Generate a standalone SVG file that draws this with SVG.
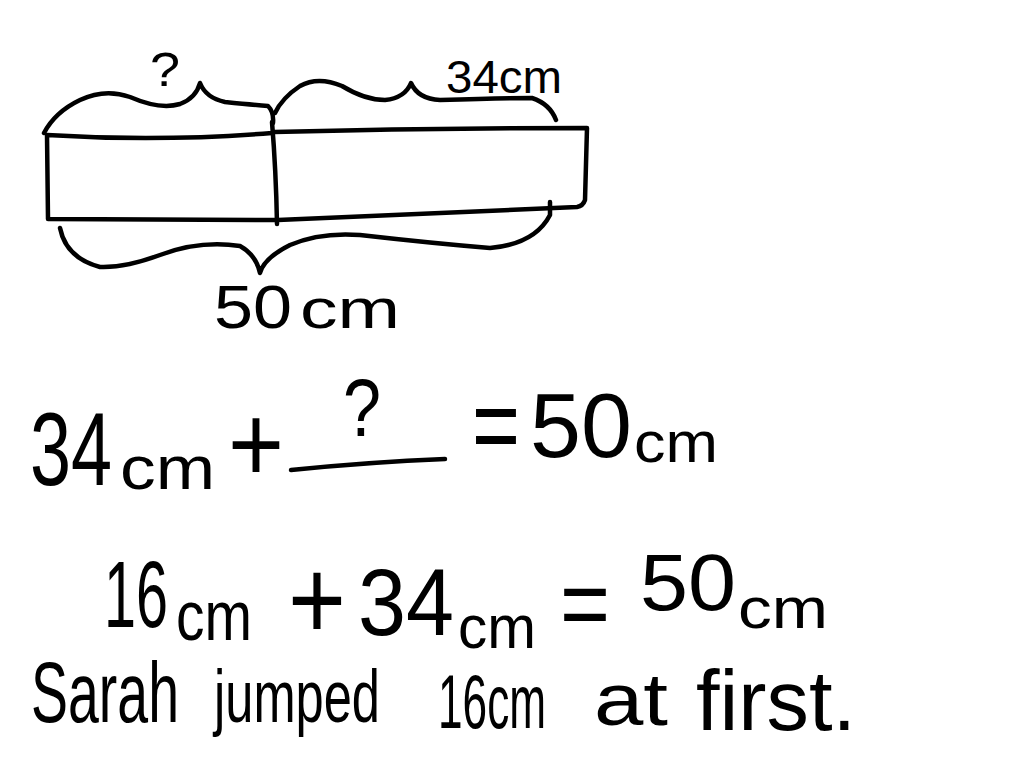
<svg xmlns="http://www.w3.org/2000/svg" width="1024" height="768" viewBox="0 0 1024 768">
<style>
.ink{fill:none;stroke:#000;stroke-width:4.5;stroke-linecap:round;stroke-linejoin:round}
.t{font-family:"Liberation Sans","DejaVu Sans",sans-serif;fill:#000}
</style>
<rect width="1024" height="768" fill="#fff"/>
<g id="bar-model">
<path class="ink" d="M47,135 Q160,142 272,133 L274,132 Q430,128 587,128 L585,200 Q583,206 577,207 Q430,214 278,220 L48,219 Z"/>
<path class="ink" d="M272,122 Q276,170 277,224"/>
</g>
<g id="braces">
<path class="ink" d="M44,133 Q55,112 80,100 Q105,88 130,97 Q160,110 180,104 Q196,98 200,83 Q206,98 225,102 Q255,105 268,106 Q274,112 273,123"/>
<path class="ink" d="M275,113 Q282,98 300,86 Q318,76 342,86 Q365,100 385,100 Q405,98 411,83 Q418,99 440,100 Q500,98 532,98 Q550,104 556,120"/>
<path class="ink" d="M60,228 Q66,258 100,267 Q125,268 160,255 Q200,240 240,246 Q256,255 260,273 Q264,258 290,245 Q320,232 360,235 Q430,243 490,248 Q535,244 550,215 L550,202"/>
</g>
<g id="labels">
<text class="t" x="150" y="86" font-size="48" textLength="30" lengthAdjust="spacingAndGlyphs">?</text>
<text class="t" x="446" y="93" font-size="46" textLength="116" lengthAdjust="spacingAndGlyphs">34cm</text>
<text class="t" x="214" y="328" font-size="62" textLength="78" lengthAdjust="spacingAndGlyphs">50</text>
<text class="t" x="300" y="328" font-size="56" textLength="100" lengthAdjust="spacingAndGlyphs">cm</text>
</g>
<g id="equation1">
<text class="t" x="30" y="485" font-size="104" textLength="82" lengthAdjust="spacingAndGlyphs">34</text>
<text class="t" x="120" y="489" font-size="62" textLength="95" lengthAdjust="spacingAndGlyphs">cm</text>
<text class="t" x="228" y="482" font-size="110" textLength="56" lengthAdjust="spacingAndGlyphs">+</text>
<path class="ink" d="M291,470 Q370,462 445,459"/>
<text class="t" x="343" y="436" font-size="82" textLength="38" lengthAdjust="spacingAndGlyphs">?</text>
<text class="t" x="472" y="462" font-size="110" textLength="48" lengthAdjust="spacingAndGlyphs">=</text>
<text class="t" x="530" y="457" font-size="90" textLength="102" lengthAdjust="spacingAndGlyphs">50</text>
<text class="t" x="634" y="462" font-size="58" textLength="84" lengthAdjust="spacingAndGlyphs">cm</text>
</g>
<g id="equation2">
<text class="t" x="104" y="627" font-size="95" textLength="64" lengthAdjust="spacingAndGlyphs">16</text>
<text class="t" x="176" y="640" font-size="70" textLength="76" lengthAdjust="spacingAndGlyphs">cm</text>
<text class="t" x="288" y="639" font-size="115" textLength="58" lengthAdjust="spacingAndGlyphs">+</text>
<text class="t" x="358" y="635" font-size="95" textLength="96" lengthAdjust="spacingAndGlyphs">34</text>
<text class="t" x="458" y="648" font-size="62" textLength="78" lengthAdjust="spacingAndGlyphs">cm</text>
<text class="t" x="560" y="638" font-size="100" textLength="50" lengthAdjust="spacingAndGlyphs">=</text>
<text class="t" x="640" y="610" font-size="79" textLength="96" lengthAdjust="spacingAndGlyphs">50</text>
<text class="t" x="738" y="628" font-size="58" textLength="90" lengthAdjust="spacingAndGlyphs">cm</text>
</g>
<g id="sentence">
<text class="t" x="31" y="722" font-size="86" textLength="148" lengthAdjust="spacingAndGlyphs">Sarah</text>
<text class="t" x="214" y="722" font-size="74" textLength="166" lengthAdjust="spacingAndGlyphs">jumped</text>
<text class="t" x="438" y="728" font-size="76" textLength="108" lengthAdjust="spacingAndGlyphs">16cm</text>
<text class="t" x="594" y="725" font-size="74" textLength="74" lengthAdjust="spacingAndGlyphs">at</text>
<text class="t" x="696" y="730" font-size="86" textLength="160" lengthAdjust="spacingAndGlyphs">first.</text>
</g>
</svg>
